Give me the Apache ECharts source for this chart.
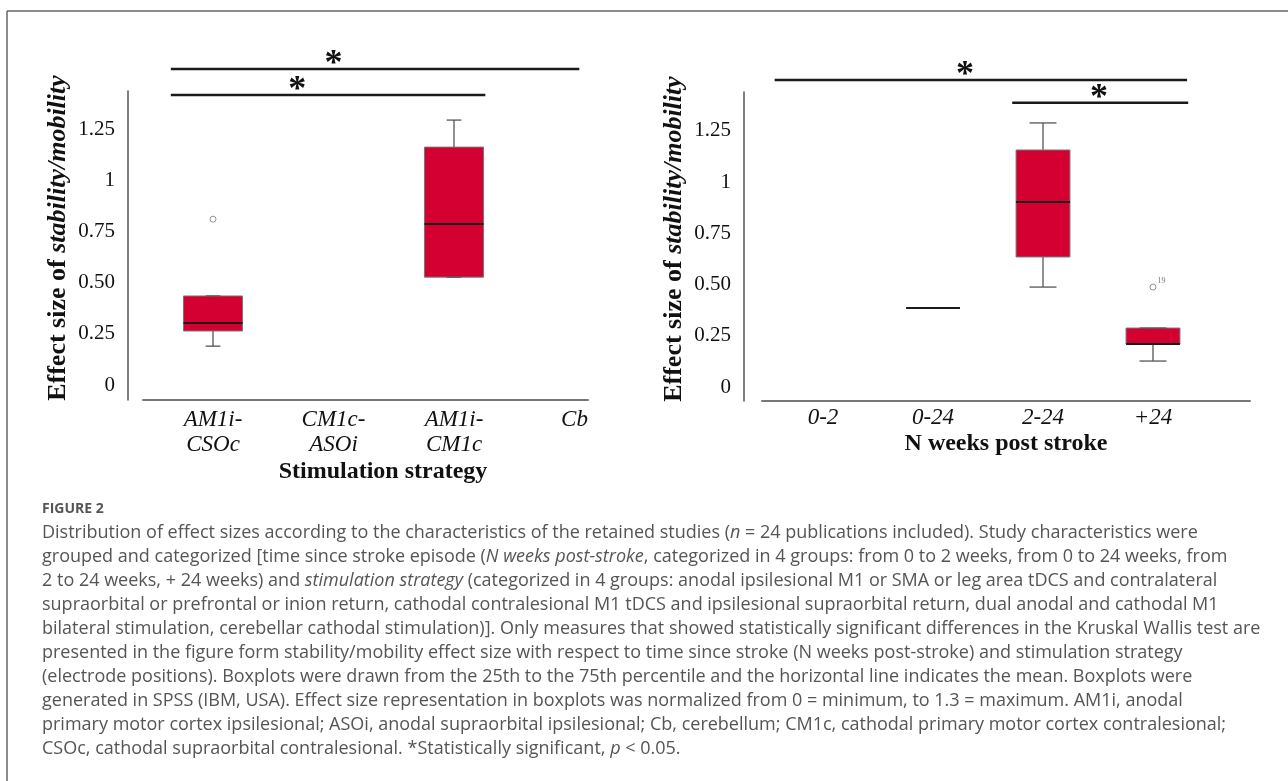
<!DOCTYPE html>
<html>
<head>
<meta charset="utf-8">
<script src="https://cdn.jsdelivr.net/npm/echarts@6/dist/echarts.min.js"></script>
<style>
  html, body { margin: 0; padding: 0; background: #fff; }
  #chart { width: 1288px; height: 781px; }
</style>
</head>
<body>
<div id="chart"></div>
<script>
const yTicks = [0, 0.25, 0.5, 0.75, 1, 1.25]
const yTickLabels = ['0', '0.25', '0.50', '0.75', '1', '1.25']

const strategyCats = ['AM1i-\nCSOc', 'CM1c-\nASOi', 'AM1i-\nCM1c', 'Cb']
// [category, min, Q1, median, Q3, max]
const strategyBoxes = [
  [0, 0.19, 0.264, 0.303, 0.435, 0.435],
  [2, 0.527, 0.527, 0.786, 1.162, 1.294],
]
const strategyOutliers = [[0, 0.81]]
// [from, to, level, star]
const strategySig = [
  [-0.35, 3.04, 1.543, 1.0],
  [-0.35, 2.26, 1.416, 0.7],
]

const weekCats = ['0-2', '0-24', '2-24', '+24']
const weekBoxes = [
  [1, 0.386, 0.386, 0.386, 0.386, 0.386],
  [2, 0.488, 0.635, 0.903, 1.157, 1.289],
  [3, 0.127, 0.21, 0.21, 0.288, 0.288],
]
const weekOutliers = [[3, 0.488, '19']]
const weekSig = [
  [-0.44, 3.31, 1.499, 1.29],
  [1.72, 3.32, 1.387, 2.51],
]

const captionTitle = 'FIGURE 2'
const captionLines = [
  'Distribution of effect sizes according to the characteristics of the retained studies ({i|n} = 24 publications included). Study characteristics were',
  'grouped and categorized [time since stroke episode ({i|N weeks post-stroke}, categorized in 4 groups: from 0 to 2 weeks, from 0 to 24 weeks, from',
  '2 to 24 weeks, + 24 weeks) and {i|stimulation strategy} (categorized in 4 groups: anodal ipsilesional M1 or SMA or leg area tDCS and contralateral',
  'supraorbital or prefrontal or inion return, cathodal contralesional M1 tDCS and ipsilesional supraorbital return, dual anodal and cathodal M1',
  'bilateral stimulation, cerebellar cathodal stimulation)]. Only measures that showed statistically significant differences in the Kruskal Wallis test are',
  'presented in the figure form stability/mobility effect size with respect to time since stroke (N weeks post-stroke) and stimulation strategy',
  '(electrode positions). Boxplots were drawn from the 25th to the 75th percentile and the horizontal line indicates the mean. Boxplots were',
  'generated in SPSS (IBM, USA). Effect size representation in boxplots was normalized from 0 = minimum, to 1.3 = maximum. AM1i, anodal',
  'primary motor cortex ipsilesional; ASOi, anodal supraorbital ipsilesional; Cb, cerebellum; CM1c, cathodal primary motor cortex contralesional;',
  'CSOc, cathodal supraorbital contralesional. *Statistically significant, {i|p} < 0.05.',
]

const SERIF = '"Liberation Serif", "Times New Roman", serif'
const SANS = '"Open Sans", "Noto Sans", sans-serif'
const RED = '#d40032'

const chart = echarts.init(document.getElementById('chart'), null, { renderer: 'canvas' })

function renderBox(capRatio) {
  return (params, api) => {
    const x = api.value(0)
    const pt = (i) => api.coord([x, api.value(i)])
    const lo = pt(1), q1 = pt(2), med = pt(3), q3 = pt(4), hi = pt(5)
    const w = api.size([1, 0])[0] * 0.49
    const cx = lo[0], hw = w / 2, cw = hw * capRatio
    const grey = { stroke: '#555', lineWidth: 1.3 }
    const children = [
      { type: 'line', shape: { x1: cx, y1: hi[1], x2: cx, y2: q3[1] }, style: grey },
      { type: 'line', shape: { x1: cx, y1: q1[1], x2: cx, y2: lo[1] }, style: grey },
    ]
    if (q1[1] - q3[1] > 0.5) {
      children.push({
        type: 'rect',
        shape: { x: cx - hw, y: q3[1], width: w, height: q1[1] - q3[1] },
        style: { fill: RED, stroke: '#777', lineWidth: 1 },
      })
    }
    children.push(
      { type: 'line', shape: { x1: cx - cw, y1: hi[1], x2: cx + cw, y2: hi[1] }, style: grey },
      { type: 'line', shape: { x1: cx - cw, y1: lo[1], x2: cx + cw, y2: lo[1] }, style: grey },
      { type: 'line', shape: { x1: cx - hw, y1: med[1], x2: cx + hw, y2: med[1] }, style: { stroke: '#1a1a1a', lineWidth: 2 } },
    )
    return { type: 'group', children }
  }
}

function renderSig(params, api) {
  const y = api.value(2)
  const a = api.coord([api.value(0), y])
  const b = api.coord([api.value(1), y])
  const s = api.coord([api.value(3), y])
  return {
    type: 'group',
    children: [
      { type: 'line', shape: { x1: a[0], y1: a[1], x2: b[0], y2: b[1] }, style: { stroke: '#1a1a1a', lineWidth: 2.5 } },
      {
        type: 'text',
        style: { text: '*', x: s[0], y: s[1] - 4, align: 'center', verticalAlign: 'middle', fontFamily: SERIF, fontWeight: 'bold', fontSize: 36, fill: '#111' },
      },
    ],
  }
}

function xAxisFor(gridIndex, cats, min, max, margin, name, nameGap, namePad) {
  return {
    type: 'value',
    gridIndex,
    min,
    max,
    axisLine: { show: true, onZero: false, lineStyle: { color: '#777', width: 2 } },
    axisTick: { show: false },
    splitLine: { show: false },
    axisLabel: {
      customValues: [0, 1, 2, 3],
      formatter: (v) => cats[Math.round(v)],
      fontFamily: SERIF,
      fontStyle: 'italic',
      fontSize: 23,
      lineHeight: 25,
      color: '#111',
      margin,
    },
    name,
    nameLocation: 'middle',
    nameGap,
    nameTextStyle: { fontFamily: SERIF, fontWeight: 'bold', fontSize: 24, color: '#111', padding: namePad },
  }
}

function yAxisFor(gridIndex, min, max, offset) {
  return {
    type: 'value',
    gridIndex,
    min,
    max,
    offset,
    axisLine: { show: true, onZero: false, lineStyle: { color: '#555', width: 1.5 } },
    axisTick: { show: false },
    splitLine: { show: false },
    axisLabel: {
      customValues: yTicks,
      formatter: (v) => yTickLabels[yTicks.findIndex((t) => Math.abs(t - v) < 1e-6)],
      fontFamily: SERIF,
      fontSize: 21,
      color: '#111',
      margin: 13,
    },
    name: '{a|Effect size of }{b|stability/mobility}',
    nameLocation: 'middle',
    nameRotate: 90,
    nameGap: 57,
    nameTextStyle: {
      padding: [0, 0, 0, 15],
      rich: {
        a: { fontFamily: SERIF, fontWeight: 'bold', fontSize: 26, color: '#111' },
        b: { fontFamily: SERIF, fontWeight: 'bold', fontStyle: 'italic', fontSize: 26, color: '#111' },
      },
    },
  }
}

const captionFont = { fontFamily: SANS, fontSize: 18, fill: '#555' }
const graphics = [
  { type: 'line', shape: { x1: 7, y1: 11, x2: 1288, y2: 11 }, style: { stroke: '#666', lineWidth: 1.5 } },
  { type: 'line', shape: { x1: 7, y1: 11, x2: 7, y2: 781 }, style: { stroke: '#666', lineWidth: 1.5 } },
  {
    type: 'text',
    x: 42,
    y: 509,
    style: { text: captionTitle, verticalAlign: 'middle', fontFamily: SANS, fontWeight: 'bold', fontSize: 14, fill: '#555' },
  },
]
captionLines.forEach((line, i) => {
  graphics.push({
    type: 'text',
    x: 42,
    y: 533 + i * 24,
    style: {
      text: line,
      verticalAlign: 'middle',
      ...captionFont,
      rich: { i: { ...captionFont, fontStyle: 'italic' } },
    },
  })
})

chart.setOption({
  animation: false,
  grid: [
    { left: 143, top: 91, width: 445, height: 309 },
    { left: 762, top: 92, width: 488, height: 309 },
  ],
  xAxis: [
    xAxisFor(0, strategyCats, -0.581, 3.112, 7, 'Stimulation strategy', 60, [0, 0, 0, 35]),
    xAxisFor(1, weekCats, -0.555, 3.882, 4, 'N weeks post stroke', 31, 0),
  ],
  yAxis: [
    yAxisFor(0, -0.073, 1.436, 15),
    yAxisFor(1, -0.068, 1.44, 18),
  ],
  series: [
    { type: 'custom', xAxisIndex: 0, yAxisIndex: 0, renderItem: renderBox(0.25), data: strategyBoxes },
    {
      type: 'scatter', xAxisIndex: 0, yAxisIndex: 0, data: strategyOutliers, symbol: 'circle', symbolSize: 6,
      itemStyle: { color: '#fff', borderColor: '#777', borderWidth: 1 },
    },
    { type: 'custom', xAxisIndex: 0, yAxisIndex: 0, renderItem: renderSig, data: strategySig },
    { type: 'custom', xAxisIndex: 1, yAxisIndex: 1, renderItem: renderBox(0.5), data: weekBoxes },
    {
      type: 'scatter', xAxisIndex: 1, yAxisIndex: 1, data: weekOutliers, symbol: 'circle', symbolSize: 6,
      itemStyle: { color: '#fff', borderColor: '#777', borderWidth: 1 },
      label: { show: true, position: 'right', distance: 1, offset: [0, -6], formatter: (p) => p.value[2], fontFamily: SERIF, fontSize: 8, color: '#555' },
    },
    { type: 'custom', xAxisIndex: 1, yAxisIndex: 1, renderItem: renderSig, data: weekSig },
  ],
  graphic: graphics,
})

window.addEventListener('resize', () => chart.resize())
</script>
</body>
</html>
